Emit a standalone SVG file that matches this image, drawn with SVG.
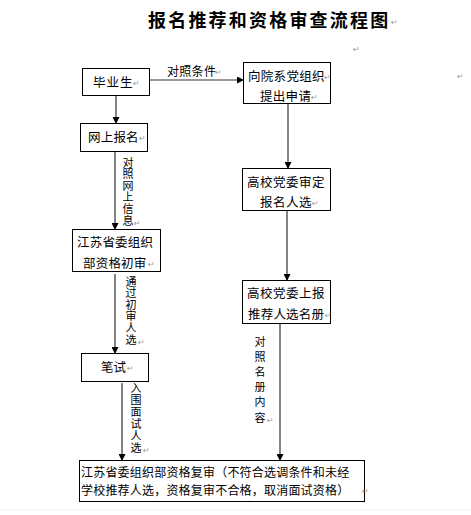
<svg xmlns="http://www.w3.org/2000/svg" width="471" height="515" viewBox="0 0 471 515">
<style>
.box{fill:#fff;stroke:#000;stroke-width:1}
.t{font-family:"Noto Sans CJK SC","Liberation Sans",sans-serif;font-size:12.5px;fill:#000}
.v{font-family:"Noto Sans CJK SC","Liberation Sans",sans-serif;font-size:11px;fill:#000;writing-mode:vertical-rl;text-orientation:upright}
.pm{font-family:"DejaVu Sans",sans-serif;font-size:8px;fill:#999}
.c{stroke:#333;stroke-width:1.2;fill:none;marker-end:url(#ah)}
.title{font-family:"Noto Sans CJK SC","Liberation Sans",sans-serif;font-size:18px;font-weight:bold;fill:#000;letter-spacing:2.2px}
</style>
<defs>
<marker id="ah" markerWidth="7" markerHeight="7" refX="6" refY="3.5" orient="auto" markerUnits="userSpaceOnUse">
<path d="M0,0 L7,3.5 L0,7 Z" fill="#000"/>
</marker>
</defs>
<rect width="471" height="515" fill="#fff"/>
<line x1="0" y1="510" x2="471" y2="510" stroke="#eee" stroke-width="1"/>
<g id="title">
<text class="title" x="148" y="27">报名推荐和资格审查流程图</text>
<text class="pm" x="391" y="25">↵</text>
</g>
<text class="pm" x="353" y="52">↵</text>
<text class="pm" x="457" y="79">↵</text>
<g id="connectors">
<line class="c" x1="116" y1="96" x2="116" y2="123"/>
<line class="c" x1="150" y1="80" x2="243" y2="80"/>
<line class="c" x1="115" y1="152" x2="115" y2="229"/>
<line class="c" x1="115" y1="274" x2="115" y2="353"/>
<line class="c" x1="122" y1="383" x2="122" y2="460"/>
<line class="c" x1="288" y1="104" x2="288" y2="168"/>
<line class="c" x1="287" y1="210" x2="287" y2="280"/>
<line class="c" x1="280" y1="324" x2="280" y2="460"/>
<text class="t" x="167" y="75.5" style="font-size:12px;letter-spacing:0.3px">对照条件</text>
<text class="pm" x="215" y="75">↵</text>
<text class="v" x="128" y="157" style="letter-spacing:0.6px">对照网上信息</text>
<text class="pm" x="134" y="226">↵</text>
<text class="v" x="131" y="276" style="letter-spacing:0.6px">通过初审人选</text>
<text class="pm" x="138" y="345">↵</text>
<text class="v" x="136" y="382" style="letter-spacing:1px">入围面试人选</text>
<text class="pm" x="143" y="453">↵</text>
<text class="v" x="260" y="336" style="letter-spacing:4.2px">对照名册内容</text>
<text class="pm" x="267" y="423">↵</text>
</g>
<g id="n1">
<rect class="box" x="82.5" y="68.5" width="67" height="27"/>
<text class="t" x="93" y="87" style="letter-spacing:1px">毕业生</text>
<text class="pm" x="133" y="86">↵</text>
</g>
<g id="n2">
<rect class="box" x="243.5" y="62.5" width="87" height="41"/>
<text class="t" x="248" y="80.5" style="letter-spacing:0.3px">向院系党组织</text>
<text class="pm" x="324" y="80">↵</text>
<text class="t" x="260" y="100.5" style="letter-spacing:0.3px">提出申请</text>
<text class="pm" x="311" y="100">↵</text>
</g>
<g id="n3">
<rect class="box" x="80.5" y="123.5" width="67" height="28"/>
<text class="t" x="88" y="141.5" style="letter-spacing:0.2px">网上报名</text>
<text class="pm" x="139" y="141">↵</text>
</g>
<g id="n4">
<rect class="box" x="72.5" y="229.5" width="88" height="42"/>
<text class="t" x="77" y="246.5" style="letter-spacing:0.2px">江苏省委组织</text>
<text class="t" x="83" y="267.5" style="letter-spacing:0.2px">部资格初审</text>
<text class="pm" x="148" y="267">↵</text>
</g>
<g id="n5">
<rect class="box" x="81.5" y="353.5" width="67" height="28"/>
<text class="t" x="101" y="371.5">笔试</text>
<text class="pm" x="127" y="371">↵</text>
</g>
<g id="n6">
<rect class="box" x="242.5" y="168.5" width="88" height="42"/>
<text class="t" x="247" y="186.5" style="letter-spacing:0.5px">高校党委审定</text>
<text class="t" x="260" y="206.5" style="letter-spacing:0.5px">报名人选</text>
<text class="pm" x="312" y="206">↵</text>
</g>
<g id="n7">
<rect class="box" x="242.5" y="280.5" width="88" height="43"/>
<text class="t" x="247" y="297.5" style="letter-spacing:0.5px">高校党委上报</text>
<text class="t" x="248" y="318.5" style="letter-spacing:0.2px">推荐人选名册</text>
<text class="pm" x="325" y="318">↵</text>
</g>
<g id="n8">
<rect class="box" x="79.5" y="460.5" width="285" height="41"/>
<text class="t" x="81" y="476.5" style="font-size:12px;letter-spacing:0.2px">江苏省委组织部资格复审（不符合选调条件和未经</text>
<text class="t" x="81" y="494.5" style="font-size:12px;letter-spacing:0.2px">学校推荐人选，资格复审不合格，取消面试资格）</text>
<text class="pm" x="362" y="494">↵</text>
</g>
</svg>
